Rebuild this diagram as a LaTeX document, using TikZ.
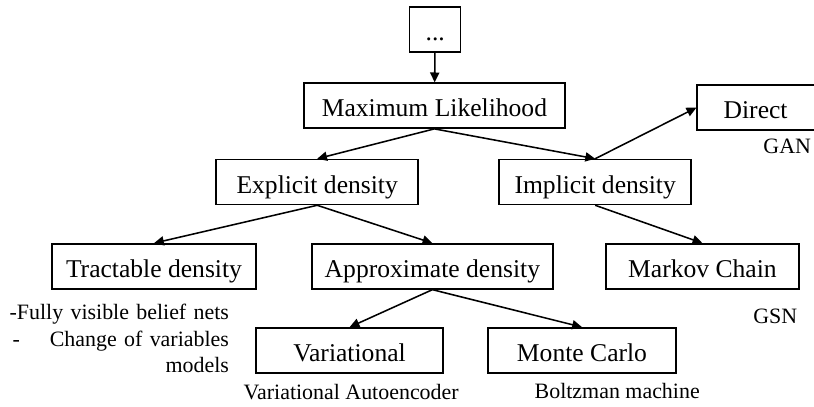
\documentclass[tikz,border=0pt]{standalone}
\usepackage{fontspec}
\setmainfont{Liberation Serif}
\usepackage{tikz}
\usetikzlibrary{
  arrows.meta,
  positioning,
}
\tikzset{
  >={Triangle[length=7pt, width=6.5pt]},
  box/.style={draw, line width=1.1pt, minimum height=1.125cm, inner sep=0pt,
    text height=16pt, text depth=0pt, font=\fontsize{18.2}{22}\selectfont},
  note/.style={inner sep=0pt, font=\fontsize{15.6}{18.8}\selectfont},
  link/.style={->, line width=1.1pt},
}

\begin{document}
\begin{tikzpicture}
      \useasboundingbox (0, 0) rectangle (20.35, 10.15);
      \node [box, minimum width=1.275cm] (dots) at (10.88, 9.41) {...};
      \node [box, minimum width=6.525cm] (maxlike) at (10.86, 7.51) {Maximum Likelihood};
      % runs off the right edge
      \node [box, minimum width=3.3cm] (direct) at (19.08, 7.46) {\hspace*{-0.38cm}Direct};
      \node [box, minimum width=5.05cm] (explicit) at (7.93, 5.6) {Explicit density};
      \node [box, minimum width=4.8cm] (implicit) at (14.88, 5.6) {Implicit density};
      \node [box, minimum width=5.1cm] (tractable) at (3.85, 3.49) {Tractable density};
      \node [box, minimum width=6.025cm] (approx) at (10.81, 3.49) {Approximate density};
      \node [box, minimum width=4.825cm] (markov) at (17.56, 3.49) {Markov Chain};
      \node [box, minimum width=4.675cm] (variational) at (8.74, 1.39) {Variational};
      \node [box, minimum width=4.7cm] (montecarlo) at (14.55, 1.39) {Monte Carlo};

      % labels under the boxes
      \node [note] (gan) at (19.68, 6.5) {GAN};
      \node [note] (gsn) at (19.38, 2.23) {GSN};
      \node [note] (vae) at (8.78, 0.35) {Variational Autoencoder};
      \node [note] (boltzman) at (15.43, 0.37) {Boltzman machine};
      \node [note, anchor=east, text width=5.53cm, align=right] (tractnote) at (5.73, 1.68)
        {-Fully visible belief nets\\ \hspace*{0.12cm}-\hfill Change of variables\\ models};

      \draw [link] (dots) -- (maxlike);
      \draw [link] (maxlike.south) -- (explicit.north);
      \draw [link] (maxlike.south) -- (implicit.north);
      \draw [link] (implicit.north) -- (direct.west);
      \draw [link] (implicit.south) -- (markov.north);
      \draw [link] (explicit.south) -- (tractable.north);
      \draw [link] (explicit.south) -- (approx.north);
      \draw [link] (approx.south) -- (variational.north);
      \draw [link] (approx.south) -- (montecarlo.north);
    \end{tikzpicture}
\end{document}
